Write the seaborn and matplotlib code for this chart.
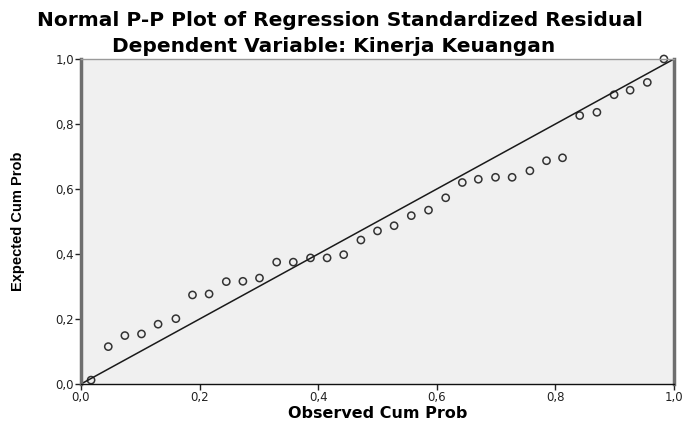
import matplotlib
matplotlib.use('Agg')
import matplotlib.pyplot as plt
import numpy as np
import pandas as pd
import seaborn as sb

# values
observed = [0.017, 0.046, 0.074, 0.102, 0.130, 0.160, 0.188, 0.216, 0.245, 0.273,
            0.301, 0.330, 0.358, 0.387, 0.415, 0.443, 0.472, 0.500, 0.528, 0.557,
            0.586, 0.615, 0.643, 0.670, 0.699, 0.727, 0.757, 0.785, 0.812, 0.841,
            0.870, 0.899, 0.926, 0.955, 0.983]
expected = [0.012, 0.115, 0.149, 0.154, 0.184, 0.201, 0.274, 0.277, 0.315, 0.316,
            0.326, 0.375, 0.375, 0.388, 0.388, 0.398, 0.443, 0.471, 0.487, 0.518,
            0.535, 0.573, 0.620, 0.630, 0.636, 0.636, 0.656, 0.687, 0.696, 0.826,
            0.836, 0.890, 0.904, 0.928, 1.000]
diag_x = [0.0, 1.0]
diag_y = [0.0, 1.0]
ticks = [0.0, 0.2, 0.4, 0.6, 0.8, 1.0]
tick_labels = ['0,0', '0,2', '0,4', '0,6', '0,8', '1,0']

df = pd.DataFrame({'obs': observed, 'exp': expected})

sb.set_style('white')
plt.rcParams['font.family'] = ['DejaVu Sans']
plt.rcParams['text.color'] = 'black'
plt.rcParams['axes.labelcolor'] = 'black'

fig = plt.figure(figsize=(6.84, 4.21), dpi=100)
ax = fig.add_axes([81/684, 37/421, 593/684, 325/421])
ax.set_facecolor('#f0f0f0')

sb.lineplot(x=diag_x, y=diag_y, ax=ax, color='#1a1a1a', linewidth=1.1)
sb.scatterplot(data=df, x='obs', y='exp', ax=ax, marker='o', s=27,
               facecolor='none', edgecolor='#333333', linewidth=1.1, clip_on=False)

ax.set_xlim(0, 1)
ax.set_ylim(0, 1)
ax.set_xticks(ticks)
ax.set_xticklabels(tick_labels)
ax.set_yticks(ticks)
ax.set_yticklabels(tick_labels)
ax.tick_params(axis='both', direction='out', length=4, width=1, color='#222222',
               labelsize=8.5, labelcolor='#222222', pad=1, bottom=True, left=True)

for side in ['left', 'right']:
    ax.spines[side].set_linewidth(2.5)
    ax.spines[side].set_color('#6e6e6e')
ax.spines['top'].set_linewidth(1)
ax.spines['top'].set_color('#9a9a9a')
ax.spines['bottom'].set_linewidth(1)
ax.spines['bottom'].set_color('#111111')

ax.set_xlabel('Observed Cum Prob', fontsize=11.5, fontweight='bold')
ax.xaxis.set_label_coords(0.500, -(418 - 384) / 325)
ax.xaxis.label.set_va('baseline')
ax.set_ylabel('Expected Cum Prob', fontsize=10.5, fontweight='bold',
              family=['Liberation Sans', 'DejaVu Sans'])
ax.yaxis.set_label_coords(-(81 - 18) / 593, (384 - 221) / 325)
ax.yaxis.label.set_va('center')

fig.text(0.497, 1 - 21/421, 'Normal P-P Plot of Regression Standardized Residual',
         ha='center', va='center', fontsize=14.5, fontweight='bold')
fig.text(0.488, 1 - 47/421, 'Dependent Variable: Kinerja Keuangan',
         ha='center', va='center', fontsize=14.5, fontweight='bold')

plt.savefig('out.png', dpi=100)
